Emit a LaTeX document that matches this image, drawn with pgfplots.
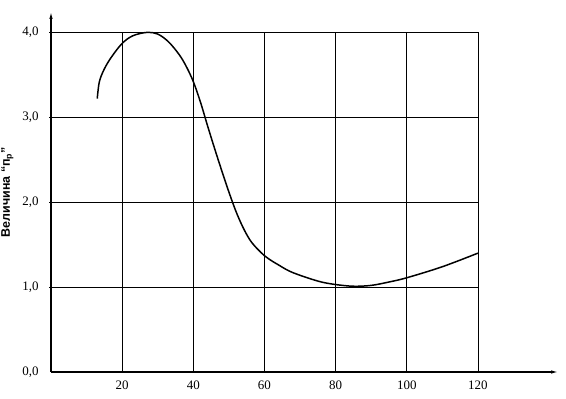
\documentclass[border=0pt]{standalone}
\usepackage{fontspec}
\setmainfont{Liberation Serif}
\newfontfamily\labfont{Liberation Sans}
\usepackage{pgfplots}
\pgfplotsset{compat=1.18}
\usetikzlibrary{arrows.meta}
\begin{document}
\begin{tikzpicture}
\useasboundingbox (-51bp,-27bp) rectangle (515bp,372bp);
\begin{axis}[
  at={(0,0)}, anchor=origin,
  scale only axis, width=507bp, height=360bp,
  xmin=0, xmax=142.5, ymin=0, ymax=4.24,
  axis lines=left,
  axis line style={line width=1.1pt, -{Latex[length=7pt,width=3.5pt]}},
  xtick={20,40,60,80,100,120},
  ytick={0,1,2,3,4},
  major tick length=0pt,
  /pgf/number format/assume math mode=true,
  yticklabel={\pgfmathprintnumber[fixed,fixed zerofill,precision=1,use comma]{\tick}},
  xticklabel={\pgfmathprintnumber[fixed,precision=0]{\tick}},
  ticklabel style={font=\fontsize{13}{15}\selectfont},
  yticklabel style={anchor=east, xshift=-9bp},
  xticklabel style={anchor=north, yshift=-5bp},
  ylabel={\labfont\bfseries Величина “п\textsubscript{р}”},
  ylabel style={font=\fontsize{12.5}{14}\selectfont, at={(axis description cs:-0.067,0.5)}, anchor=south, rotate=0},
  clip=false,
]
\foreach \yy in {1,2,3,4} {
  \edef\tmp{\noexpand\draw[line width=0.8pt] (axis cs:-0.5,\yy) -- (axis cs:120,\yy);}\tmp
}
\foreach \xx in {20,40,60,80,100,120} {
  \edef\tmp{\noexpand\draw[line width=0.8pt] (axis cs:\xx,0) -- (axis cs:\xx,4);}\tmp
}
\addplot[smooth, tension=0.55, line width=1.5pt, black] coordinates {
(13,3.22) (13.6,3.42) (15,3.57) (17,3.71) (20,3.87)
(23,3.96) (27,4.0) (30,3.98) (33,3.89) (36,3.74) (38,3.6)
(40,3.42) (42,3.18) (44,2.9) (46,2.63) (48,2.37) (50,2.12)
(52,1.89) (54,1.70) (56,1.55) (58,1.45) (60,1.37) (62,1.31)
(64,1.26) (66,1.21) (68,1.17) (72,1.11) (76,1.06) (80,1.03)
(85,1.01) (90,1.02) (95,1.06) (100,1.11) (110,1.24) (120,1.40)
};
\end{axis}
\end{tikzpicture}
\end{document}
